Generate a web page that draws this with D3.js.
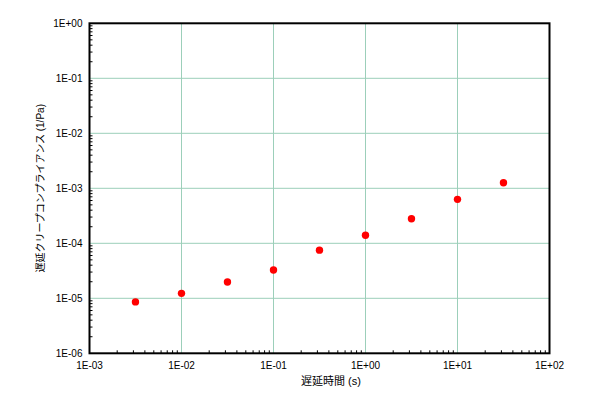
<!DOCTYPE html>
<html><head><meta charset="utf-8">
<script src="https://cdn.jsdelivr.net/npm/d3@7"></script>
<style>body{margin:0;background:#fff}</style>
</head><body><svg id="c" width="600" height="400"></svg>
<script>
const times = [0.00316, 0.01, 0.0316, 0.1, 0.316, 1, 3.16, 10, 31.6];
const compliance = [8.6e-6, 1.23e-5, 1.98e-5, 3.27e-5, 7.5e-5, 1.40e-4, 2.8e-4, 6.3e-4, 1.26e-3];
const xTicks = [1e-3, 1e-2, 1e-1, 1e0, 1e1, 1e2];
const yTicks = [1e-6, 1e-5, 1e-4, 1e-3, 1e-2, 1e-1, 1e0];
const xTickLabels = ["1E-03","1E-02","1E-01","1E+00","1E+01","1E+02"];
const yTickLabels = ["1E-06","1E-05","1E-04","1E-03","1E-02","1E-01","1E+00"];
const xTitle = "遅延時間 (s)";
const yTitle = "遅延クリープコンプライアンス (1/Pa)";

const svg = d3.select("#c");
const L = 89.5, R = 549.5, T = 23.3, B = 353.3;
const x = d3.scaleLog().domain([1e-3, 1e2]).range([L, R]);
const y = d3.scaleLog().domain([1e-6, 1e0]).range([B, T]);
const font = "'Liberation Sans', Arial, 'Noto Sans CJK JP', sans-serif";

// grid
svg.append("g").selectAll("line").data(xTicks.slice(1, -1)).join("line")
  .attr("x1", d => x(d)).attr("x2", d => x(d)).attr("y1", T).attr("y2", B)
  .attr("stroke", "#9ccfba").attr("stroke-width", 1);
svg.append("g").selectAll("line").data(yTicks.slice(1, -1)).join("line")
  .attr("y1", d => y(d)).attr("y2", d => y(d)).attr("x1", L).attr("x2", R)
  .attr("stroke", "#9ccfba").attr("stroke-width", 1);

// minor ticks
const minorX = [], minorY = [];
xTicks.slice(0, -1).forEach(d => { for (let k = 2; k < 10; k++) minorX.push(d * k); });
yTicks.slice(0, -1).forEach(d => { for (let k = 2; k < 10; k++) minorY.push(d * k); });
svg.append("g").selectAll("line").data(minorX).join("line")
  .attr("x1", d => x(d)).attr("x2", d => x(d)).attr("y1", B).attr("y2", B - 3)
  .attr("stroke", "#000").attr("stroke-width", 1);
svg.append("g").selectAll("line").data(minorY).join("line")
  .attr("y1", d => y(d)).attr("y2", d => y(d)).attr("x1", L).attr("x2", L + 3)
  .attr("stroke", "#000").attr("stroke-width", 1);

// frame
svg.append("rect").attr("x", L).attr("y", T).attr("width", R - L).attr("height", B - T)
  .attr("fill", "none").attr("stroke", "#000").attr("stroke-width", 2);

// tick labels
svg.append("g").selectAll("text").data(xTicks).join("text")
  .attr("x", d => x(d)).attr("y", B + 16).attr("text-anchor", "middle")
  .attr("font-family", font).attr("font-size", 10).attr("fill", "#000")
  .text((d, i) => xTickLabels[i]);
svg.append("g").selectAll("text").data(yTicks).join("text")
  .attr("x", L - 7).attr("y", d => y(d) + 4).attr("text-anchor", "end")
  .attr("font-family", font).attr("font-size", 10).attr("fill", "#000")
  .text((d, i) => yTickLabels[i]);

// titles
svg.append("text").attr("x", 331).attr("y", 385).attr("text-anchor", "middle")
  .attr("font-family", font).attr("font-size", 11).text(xTitle);
svg.append("text").attr("transform", `translate(44,${(T + B) / 2}) rotate(-90)`)
  .attr("text-anchor", "middle").attr("font-family", font).attr("font-size", 10).text(yTitle);

// points
svg.append("g").selectAll("circle").data(times).join("circle")
  .attr("cx", d => x(d)).attr("cy", (d, i) => y(compliance[i])).attr("r", 3.7)
  .attr("fill", "#ff0000");
</script></body></html>
